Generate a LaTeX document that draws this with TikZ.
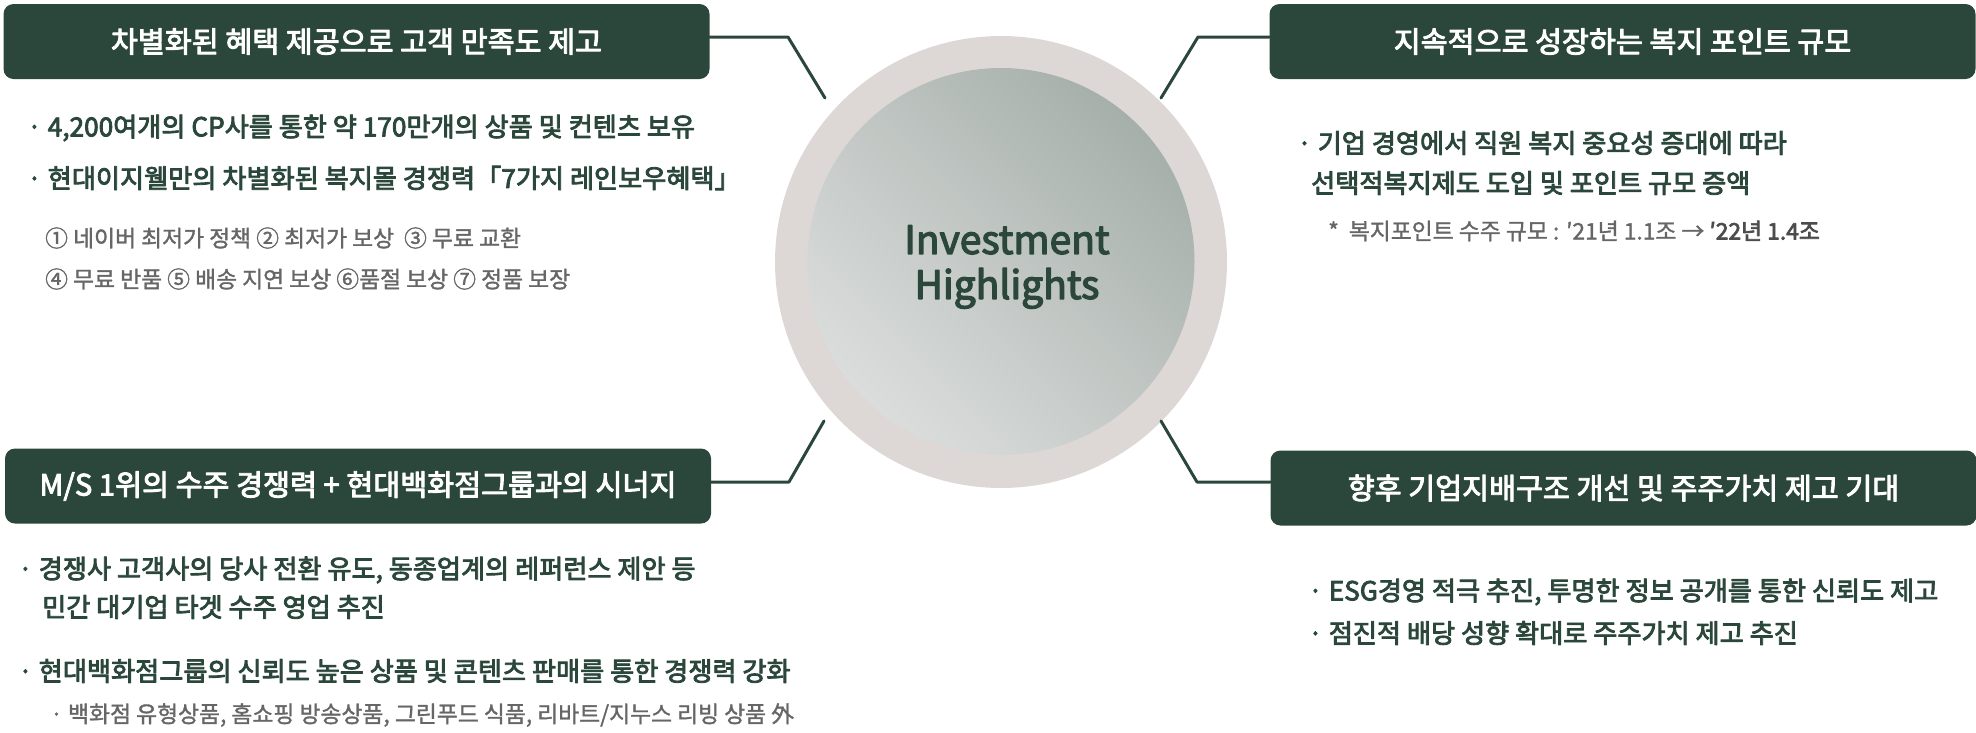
\documentclass[tikz,border=0pt]{standalone}
\usepackage{fontspec}
\setmainfont{Noto Sans CJK KR}
\newfontfamily\krmed[FakeBold=3.2]{Noto Sans CJK KR}
\newfontfamily\krsemi[FakeBold=1.4]{Noto Sans CJK KR}
\usepackage{tikz}
\definecolor{hgreen}{rgb}{0.17,0.28,0.23}
\definecolor{hring}{rgb}{0.867,0.847,0.839}
\definecolor{hlight}{rgb}{0.855,0.867,0.863}
\definecolor{hmid}{rgb}{0.76,0.78,0.77}
\definecolor{hdark}{rgb}{0.65,0.69,0.667}
\definecolor{hgray}{rgb}{0.40,0.40,0.40}

\begin{document}
\begin{tikzpicture}[line cap=round,line join=round,x=1pt,y=-1pt,
  hbox/.style={fill=hgreen,rounded corners=10pt,minimum width=706pt,minimum height=75pt,
    inner sep=0pt,text=white,font=\fontsize{29.3}{32}\krmed},
  btxt/.style={anchor=west,inner sep=0pt,text=hgreen,font=\fontsize{26.2}{30}\krmed},
  stxt/.style={anchor=west,inner sep=0pt,text=hgray,font=\fontsize{22.8}{28}\krsemi},
  link/.style={draw=hgreen,line width=3pt}]
  \useasboundingbox (0,0) rectangle (1976,732);
  % centre
  \node[circle,fill=hring,minimum size=452pt,inner sep=0pt] (hub) at (1001,262) {};
  \node[circle,minimum size=387pt,inner sep=0pt,top color=hdark,bottom color=hlight,
    middle color=hmid,shading angle=-45] (core) at (1001,261.5) {};
  \node[align=center,text=hgreen,font=\fontsize{39}{45}\krmed] (ttl) at (1007,267)
    {Investment\\Highlights};
  % title boxes
  \node[hbox] (h1) at (356.5,41.5) {차별화된 혜택 제공으로 고객 만족도 제고};
  \node[hbox] (h2) at (358,486) {M/S 1위의 수주 경쟁력 + 현대백화점그룹과의 시너지};
  \node[hbox] (h3) at (1622.5,41.5) {지속적으로 성장하는 복지 포인트 규모};
  \node[hbox] (h4) at (1623.5,488) {향후 기업지배구조 개선 및 주주가치 제고 기대};
  % connectors
  \coordinate (k1) at (788,37);  \coordinate (e1) at (825,98);
  \coordinate (k2) at (1198,37); \coordinate (e2) at (1161,98);
  \coordinate (k3) at (789,482); \coordinate (e3) at (824,421);
  \coordinate (k4) at (1197,482);\coordinate (e4) at (1161,421);
  \draw[link] (h1.east |- k1) -- (k1) -- (e1);
  \draw[link] (h3.west |- k2) -- (k2) -- (e2);
  \draw[link] (h2.east |- k3) -- (k3) -- (e3);
  \draw[link] (h4.west |- k4) -- (k4) -- (e4);
  % top left
  \node[btxt] (a1) at (27,128) {· 4,200여개의 CP사를 통한 약 170만개의 상품 및 컨텐츠 보유};
  \node[btxt] (a2) at (27,178) {· 현대이지웰만의 차별화된 복지몰 경쟁력「7가지 레인보우혜택」};
  \node[stxt] (a3) at (45,238) {① 네이버 최저가 정책 ② 최저가 보상\hspace{10pt}③ 무료 교환};
  \node[stxt] (a4) at (45,279) {④ 무료 반품 ⑤ 배송 지연 보상 ⑥품절 보상 ⑦ 정품 보장};
  % top right
  \node[btxt] (b1) at (1297,143) {· 기업 경영에서 직원 복지 중요성 증대에 따라};
  \node[btxt] (b2) at (1311,183) {선택적복지제도 도입 및 포인트 규모 증액};
  \node[stxt] (b3) at (1328,231) {*\hspace{10pt}복지포인트 수주 규모 : ′21년 1.1조 → {\krmed\color{black!70}′22년 1.4조}};
  % bottom left
  \node[btxt] (c1) at (18,570) {· 경쟁사 고객사의 당사 전환 유도, 동종업계의 레퍼런스 제안 등};
  \node[btxt] (c2) at (42,607) {민간 대기업 타겟 수주 영업 추진};
  \node[btxt] (c3) at (18,671) {· 현대백화점그룹의 신뢰도 높은 상품 및 콘텐츠 판매를 통한 경쟁력 강화};
  \node[stxt] (c4) at (50,715) {· 백화점 유형상품, 홈쇼핑 방송상품, 그린푸드 식품, 리바트/지누스 리빙 상품 外};
  % bottom right
  \node[btxt] (d1) at (1308,592) {· ESG경영 적극 추진, 투명한 정보 공개를 통한 신뢰도 제고};
  \node[btxt] (d2) at (1308,633) {· 점진적 배당 성향 확대로 주주가치 제고 추진};
\end{tikzpicture}
\end{document}
